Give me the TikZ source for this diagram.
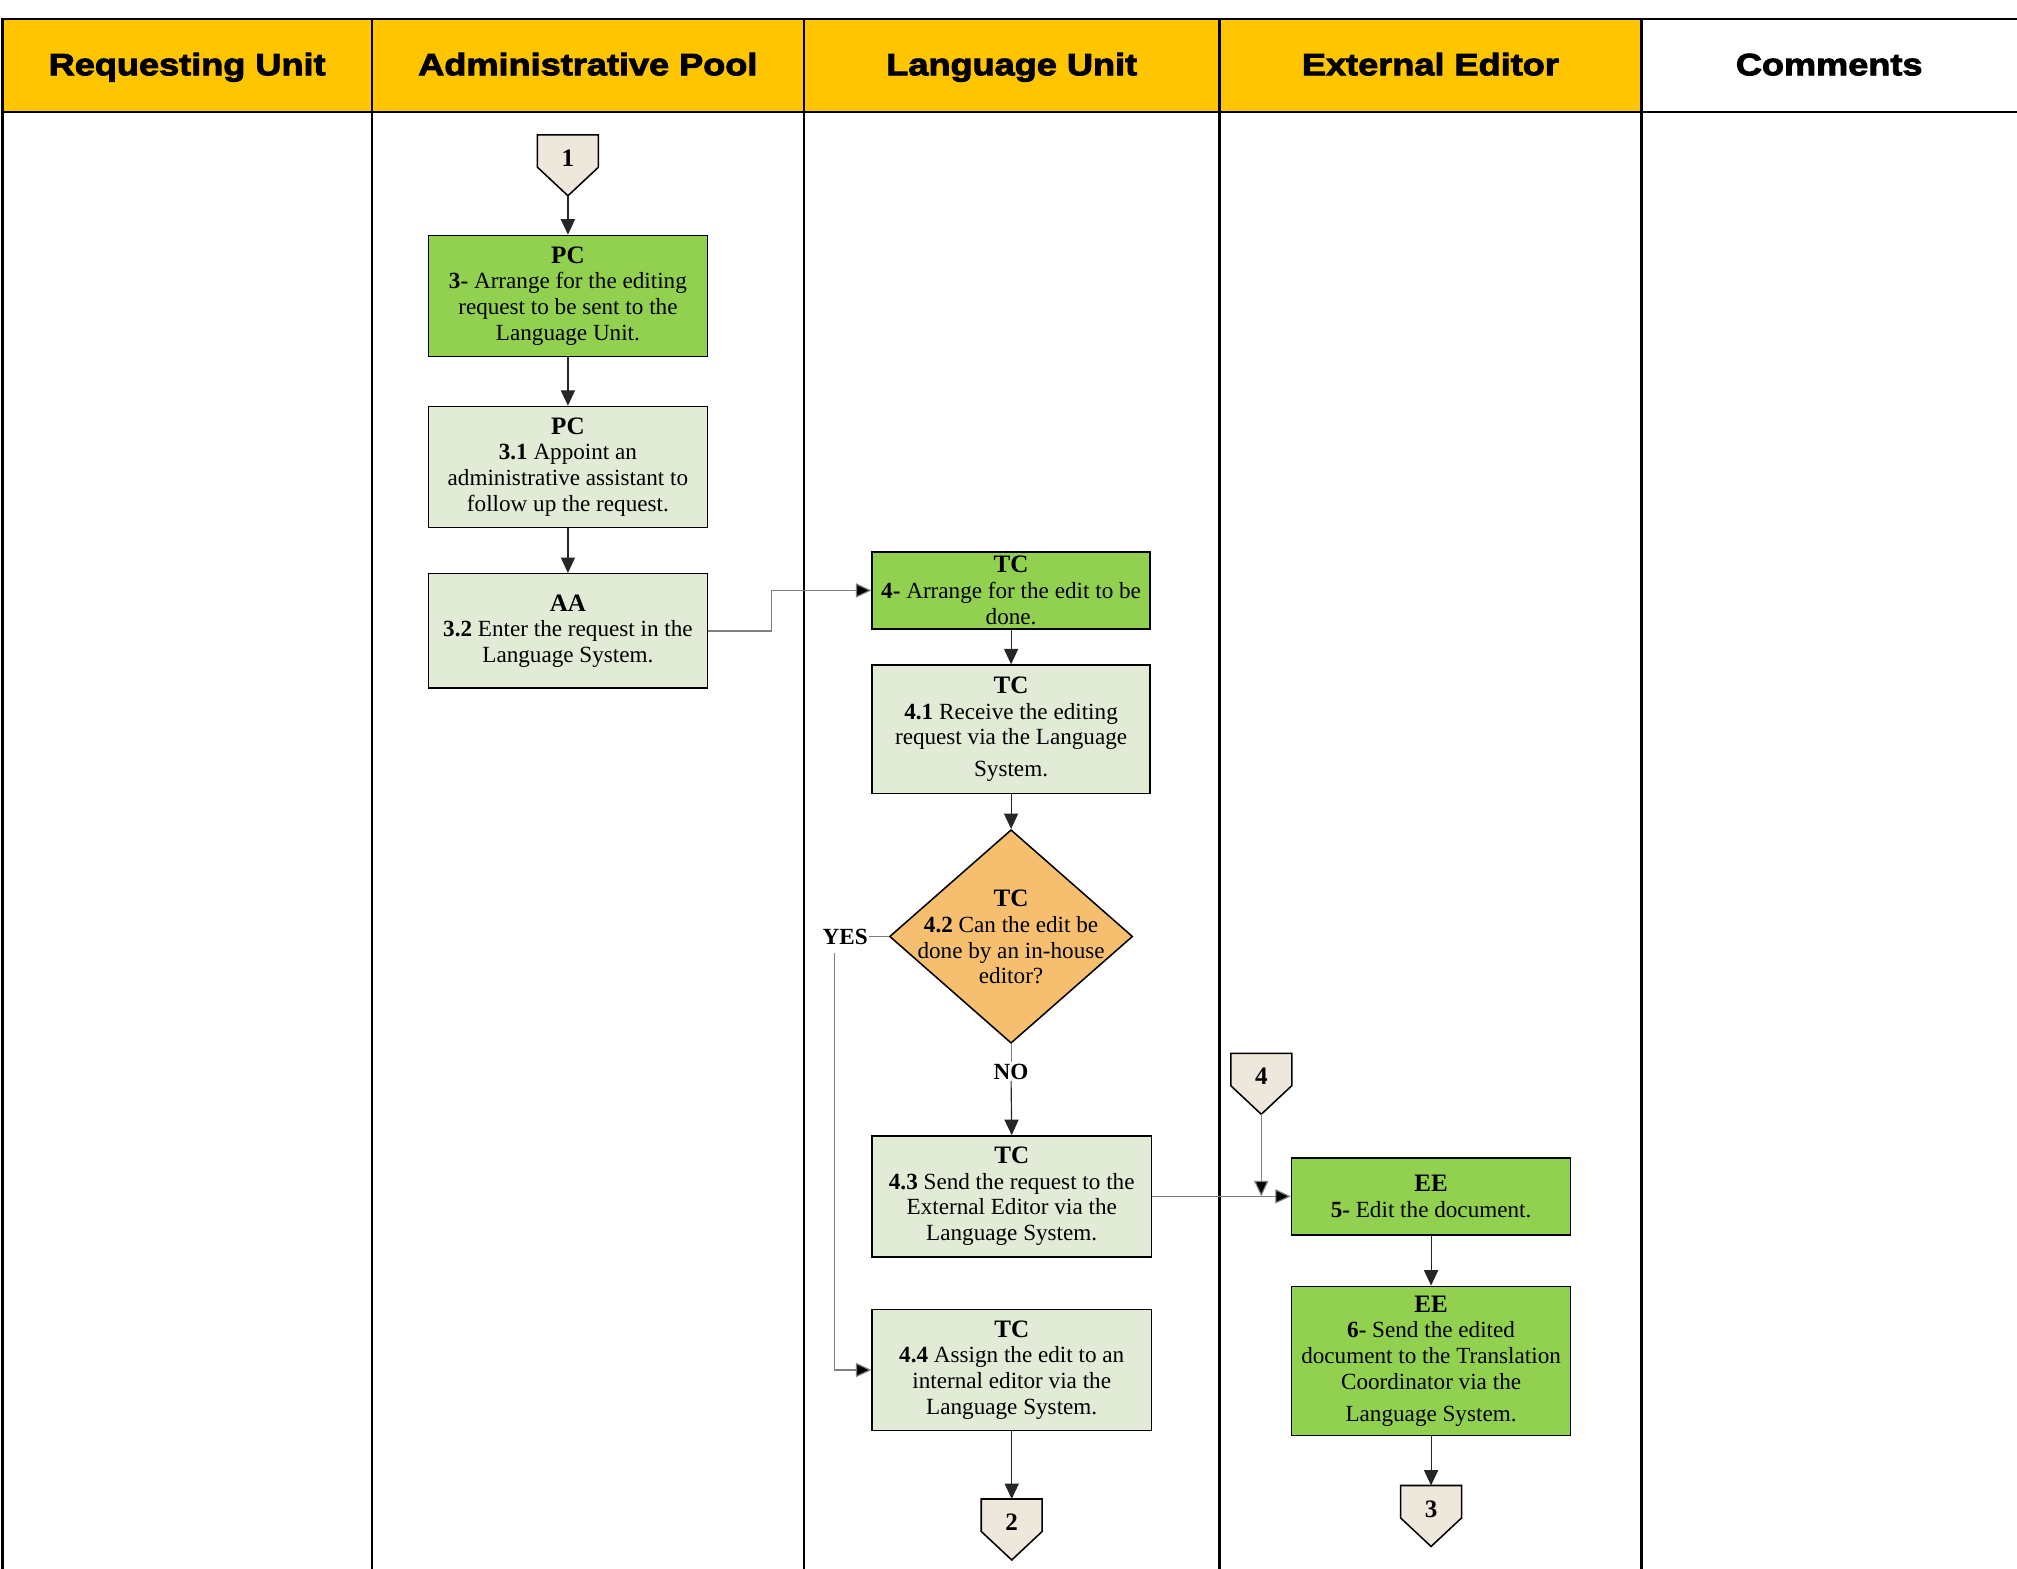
\documentclass[tikz,border=0pt]{standalone}
\usepackage{fontspec}
\setmainfont{Liberation Serif}
\newfontfamily\hdrfont{Liberation Sans}[BoldFeatures={FakeBold=3,FakeStretch=1.17}]
\usetikzlibrary{shapes.geometric,arrows.meta}

\definecolor{hdrgold}{HTML}{FFC600}
\definecolor{stepgreen}{HTML}{92D050}
\definecolor{steplight}{HTML}{E2EBD5}
\definecolor{decorange}{HTML}{F5BF6F}
\definecolor{connbeige}{HTML}{EEE7DC}
\definecolor{flowgray}{HTML}{7F7F7F}

% role abbreviation on the first line of a step
\newcommand{\role}[1]{{\fontsize{19.5}{20}\selectfont\textbf{#1}}}

\begin{document}
\begin{tikzpicture}[x=1pt,y=-1pt,
  lane/.style={line width=1.8pt, line cap=rect},
  hdr/.style={font=\hdrfont\bfseries\fontsize{24}{28}\selectfont, anchor=base},
  stepbox/.style={draw=black, line width=1.2pt, minimum width=217pt,
    inner sep=0pt, align=center, font=\fontsize{18}{20}\selectfont},
  mainstep/.style={stepbox, fill=stepgreen},
  substep/.style={stepbox, fill=steplight},
  decision/.style={diamond, draw=black, line width=1.2pt, fill=decorange, inner sep=0pt,
    minimum width=189pt, minimum height=166pt},
  offpage/.style={rectangle, inner sep=0pt, minimum width=47pt, minimum height=47pt},
  offshape/.style={draw=black, line width=1.2pt, fill=connbeige, line join=miter},
  offlbl/.style={font=\bfseries\fontsize{19.5}{20}\selectfont, inner sep=0pt},
  branch/.style={font=\bfseries\fontsize{18}{20}\selectfont, inner sep=1pt},
  arr/.style={draw=black!85, line width=0.9pt, -{Triangle[length=12pt,width=11pt]}},
  garr/.style={draw=flowgray, line width=0.9pt, -{Triangle[length=12pt,width=11pt,fill=black]}},
  gline/.style={draw=flowgray, line width=0.9pt},
]
\useasboundingbox (0,0) rectangle (1568,1219);

% swimlane header
\fill[hdrgold] (2,15) rectangle (1276,87);
\draw[lane] (2,15) -- (1568,15);
\draw[lane] (2,87) -- (1568,87);
\foreach \xx in {2,289,625,948,1276} \draw[lane] (\xx,15) -- (\xx,1219);
\node[hdr] (h1) at (145.5,58.5) {Requesting Unit};
\node[hdr] (h2) at (457,58.5) {Administrative Pool};
\node[hdr] (h3) at (786.5,58.5) {Language Unit};
\node[hdr] (h4) at (1112,58.5) {External Editor};
\node[hdr] (h5) at (1422,58.5) {Comments};

% off-page connector frames
\node[offpage] (c1) at (441.5,128.5) {};
\node[offpage] (c2) at (786.5,1189) {};
\node[offpage] (c4) at (980.5,842.5) {};
\node[offpage] (c3) at (1112.5,1178.5) {};
\foreach \n in {c1,c2,c3,c4}
  \filldraw[offshape] (\n.north west) -- (\n.north east) -- ([yshift=-1.5pt]\n.east)
    -- (\n.south) -- ([yshift=-1.5pt]\n.west) -- cycle;
\node[offlbl] (c1t) at (441.5,123) {1};
\node[offlbl] (c2t) at (786.5,1183) {2};
\node[offlbl] (c4t) at (980.5,837) {4};
\node[offlbl] (c3t) at (1112.5,1173) {3};

% Administrative Pool
\node[mainstep, minimum height=94pt] (b3) at (441.5,230)
  {\role{PC}\\\textbf{3-} Arrange for the editing\\request to be sent to the\\Language Unit.};
\node[substep, minimum height=94pt] (b31) at (441.5,363)
  {\role{PC}\\\textbf{3.1} Appoint an\\administrative assistant to\\follow up the request.};
\node[substep, minimum height=89pt] (b32) at (441.5,490.5)
  {\role{AA}\\\textbf{3.2} Enter the request in the\\Language System.};

% Language Unit
\node[mainstep, minimum width=216pt, minimum height=60pt] (b4) at (786,459)
  {\role{TC}\\\textbf{4-} Arrange for the edit to be\\done.};
\node[substep, minimum width=216pt, minimum height=100pt] (b41) at (786,567)
  {\role{TC}\\\textbf{4.1} Receive the editing\\request via the Language\\[5pt]System.};
\node[decision] (d42) at (786,728) {};
\node[align=center, font=\fontsize{18}{20}\selectfont, inner sep=0pt] (d42t) at (786,728.5)
  {\role{TC}\\\textbf{4.2} Can the edit be\\done by an in-house\\editor?};
\node[branch] (yes) at (657,728) {YES};
\node[branch] (no) at (786,833) {NO};
\node[substep, minimum height=94pt] (b43) at (786.5,930)
  {\role{TC}\\\textbf{4.3} Send the request to the\\External Editor via the\\Language System.};
\node[substep, minimum height=94pt] (b44) at (786.5,1065)
  {\role{TC}\\\textbf{4.4} Assign the edit to an\\internal editor via the\\Language System.};

% External Editor
\node[mainstep, minimum height=60pt] (b5) at (1112.5,930)
  {\role{EE}\\\textbf{5-} Edit the document.};
\node[mainstep, minimum height=116pt] (b6) at (1112.5,1058)
  {\role{EE}\\\textbf{6-} Send the edited\\document to the Translation\\Coordinator via the\\[5pt]Language System.};

% flow inside the lanes
\draw[arr] (c1.south) -- (b3.north);
\draw[arr] (b3.south) -- (b31.north);
\draw[arr] (b31.south) -- (b32.north);
\draw[garr] (b32.east) -- ++(49,0) |- (b4.west);
\draw[arr] (b4.south) -- (b41.north);
\draw[arr] (b41.south) -- (d42.north);
\draw[gline] (d42.west) -- (yes.east);
\coordinate (ystart) at (649,741);
\draw[garr] (ystart) |- (b44.west);
\draw[gline] (d42.south) -- (no.north);
\draw[arr] (no.south) -- (b43.north);
\draw[arr] (b44.south) -- (c2.north);
\coordinate (join5) at (980.5,930);
\draw[garr] (c4.south) -- (join5);
\draw[garr] (b43.east) -- (b5.west);
\draw[arr] (b5.south) -- (b6.north);
\draw[arr] (b6.south) -- (c3.north);
\end{tikzpicture}
\end{document}
